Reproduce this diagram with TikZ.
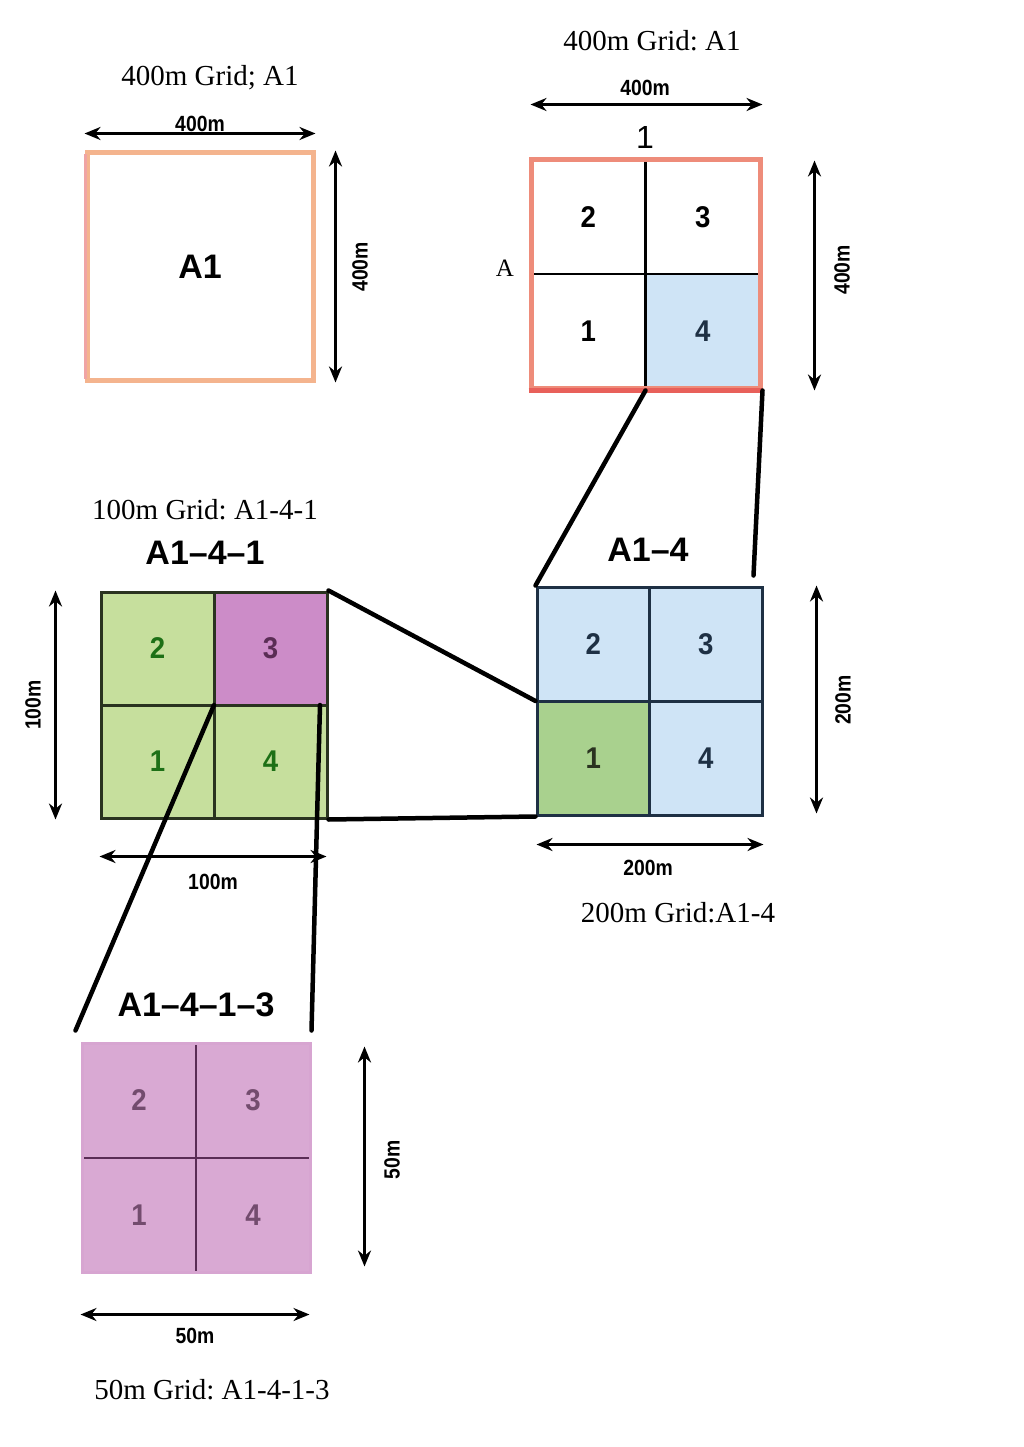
\documentclass[tikz,border=0pt]{standalone}
\usepackage{fontspec}
\setmainfont{Liberation Serif}
\newfontfamily\lab{Liberation Sans}
\newfontfamily\dimf[FakeStretch=0.88]{Liberation Sans}
\newfontfamily\numf[FakeStretch=0.92]{Liberation Sans}
\usetikzlibrary{arrows.meta,fit,calc}
\frenchspacing
\definecolor{tlorange}{HTML}{F4B48E}
\definecolor{tlpink}{HTML}{F0A4A4}
\definecolor{trsalmon}{HTML}{EE8C7A}
\definecolor{trred}{HTML}{E8605A}
\definecolor{lblue}{HTML}{CFE4F6}
\definecolor{dgreen}{HTML}{A9D18E}
\definecolor{lgreen}{HTML}{C6DF9D}
\definecolor{magen}{HTML}{CC8CC8}
\definecolor{lpink}{HTML}{D9A9D3}
\definecolor{navy}{HTML}{1E3044}
\definecolor{olive}{HTML}{2A3320}
\definecolor{plum}{HTML}{5A2D55}
\tikzset{
  caption/.style={font=\fontsize{29}{29}\selectfont},
  title/.style={font=\lab\bfseries\fontsize{34}{34}\selectfont},
  dimlabel/.style={font=\dimf\bfseries\fontsize{22}{22}\selectfont},
  dimarrow/.style={line width=3pt,{Stealth[length=16pt,width=13pt]}-{Stealth[length=16pt,width=13pt]}},
  link/.style={line width=4.5pt,line cap=round},
  cellnum/.style={font=\numf\bfseries\fontsize{30}{30}\selectfont},
  trcell/.style={cellnum,draw=black,line width=2.5pt,minimum width=114.5pt,minimum height=114pt,inner sep=0pt,outer sep=0pt},
  a14cell/.style={cellnum,text=navy,draw=navy,line width=3pt,fill=lblue,minimum width=112.5pt,minimum height=114pt,inner sep=0pt,outer sep=0pt},
  a141cell/.style={cellnum,text=olive!70!green,draw=olive,line width=3pt,fill=lgreen,minimum width=113pt,minimum height=113pt,inner sep=0pt,outer sep=0pt},
  a1413cell/.style={cellnum,text=plum!85,draw=plum,line width=2pt,fill=lpink,minimum width=114pt,minimum height=114.5pt,inner sep=0pt,outer sep=0pt}
}
\begin{document}
\begin{tikzpicture}[x=1pt,y=-1pt]
\useasboundingbox[fill=white] (0,0) rectangle (1024,1447);

% ---------- top-left 400m grid ----------
\node[caption] (captl) at (210,78) {400m Grid; A1};
\node[draw=tlorange,line width=5pt,minimum width=226pt,minimum height=227pt,inner sep=0pt,
      font=\lab\bfseries\fontsize{34}{34}\selectfont] (TL) at (200,266.5) {A1};
\draw[line width=3pt,draw=tlpink] ($(TL.north west)+(1,4)$) -- ($(TL.south west)+(1,-4)$);
\draw[dimarrow] ($(TL.north west)+(0,-17)$) -- ($(TL.north east)+(0,-17)$);
\node[dimlabel] (tlh) at (200,124) {400m};
\draw[dimarrow] ($(TL.north east)+(20,0)$) -- ($(TL.south east)+(20,0)$);
\node[dimlabel,rotate=90] (tlv) at (360,267) {400m};

% ---------- top-right 400m grid ----------
\node[caption] (captr) at (652,41) {400m Grid: A1};
\node[trcell] (tr2) at (588.25,217) {2};
\node[trcell] (tr3) at (702.75,217) {3};
\node[trcell] (tr1) at (588.25,331) {1};
\node[trcell,fill=lblue,text=navy] (tr4) at (702.75,331) {4};
\node[fit=(tr2)(tr4),inner sep=0pt,draw=trsalmon,line width=5pt] (TR) {};
\draw[line width=5pt,draw=trred] (TR.south west) -- (TR.south east);
\node[font=\lab\fontsize{32}{32}\selectfont] (col1) at (645,137) {1};
\node[font=\fontsize{25}{25}\selectfont] (rowA) at (505,268) {A};
\draw[dimarrow] ($(TR.north west)+(2,-53)$) -- ($(TR.north east)+(0,-53)$);
\node[dimlabel] (trh) at (645,88) {400m};
\draw[dimarrow] ($(TR.north east)+(52,3)$) -- ($(TR.south east)+(52,0)$);
\node[dimlabel,rotate=90] (trv) at (842,270) {400m};

% ---------- 200m grid A1-4 ----------
\node[title] (t14) at (648,550) {A1–4};
\node[a14cell] (a2) at (593.25,644) {2};
\node[a14cell] (a3) at (705.75,644) {3};
\node[a14cell,fill=dgreen,text=olive] (a1) at (593.25,758) {1};
\node[a14cell] (a4) at (705.75,758) {4};
\node[fit=(a2)(a4),inner sep=0pt,draw=navy,line width=3pt] (A14) {};
\draw[dimarrow] ($(A14.south west)+(1,28)$) -- ($(A14.south east)+(0,28)$);
\node[dimlabel] (a14h) at (648,868) {200m};
\draw[dimarrow] ($(A14.north east)+(53,0)$) -- ($(A14.south east)+(53,-3)$);
\node[dimlabel,rotate=90] (a14v) at (843,700) {200m};
\node[caption] (cap14) at (678,913) {200m Grid:A1-4};

\draw[link] (TR.south) -- (A14.north west);
\draw[link] (TR.south east) -- ($(A14.north east)+(-10,-10)$);

% ---------- 100m grid A1-4-1 ----------
\node[caption] (cap141) at (205,510) {100m Grid: A1-4-1};
\node[title] (t141) at (205,553) {A1–4–1};
\node[a141cell] (b2) at (157.5,648.5) {2};
\node[a141cell,fill=magen,text=plum] (b3) at (270.5,648.5) {3};
\node[a141cell] (b1) at (157.5,761.5) {1};
\node[a141cell] (b4) at (270.5,761.5) {4};
\node[fit=(b2)(b4),inner sep=0pt,draw=olive,line width=3pt] (A141) {};
\draw[dimarrow] ($(A141.south west)+(0,37)$) -- ($(A141.south east)+(-2,37)$);
\node[dimlabel] (a141h) at (213,882) {100m};
\draw[dimarrow] ($(A141.north west)+(-44,0)$) -- ($(A141.south west)+(-44,0)$);
\node[dimlabel,rotate=90] (a141v) at (33,705) {100m};

\draw[link] (A141.north east) -- (A14.west);
\draw[link] (A141.south east) -- (A14.south west);

% ---------- 50m grid A1-4-1-3 ----------
\node[title] (t1413) at (196,1005) {A1–4–1–3};
\node[a1413cell] (c2) at (139,1100.25) {2};
\node[a1413cell] (c3) at (253,1100.25) {3};
\node[a1413cell] (c1) at (139,1214.75) {1};
\node[a1413cell] (c4) at (253,1214.75) {4};
\node[fit=(c2)(c4),inner sep=0pt,draw=lpink!85!magen,line width=3pt] (A1413) {};
\draw[dimarrow] ($(A1413.south west)+(0,41)$) -- ($(A1413.south east)+(-2,41)$);
\node[dimlabel] (a1413h) at (195,1336) {50m};
\draw[dimarrow] ($(A1413.north east)+(53,5)$) -- ($(A1413.south east)+(53,-7)$);
\node[dimlabel,rotate=90] (a1413v) at (392,1160) {50m};
\node[caption] (cap1413) at (212,1390) {50m Grid: A1-4-1-3};

\coordinate (src1) at (b1.north east);
\coordinate (src2) at ($(b4.north east)+(-7,0)$);
\draw[link] (src1) -- ($(A1413.north west)+(-5,-11)$);
\draw[link] (src2) -- ($(A1413.north east)+(0,-11)$);
\end{tikzpicture}
\end{document}
